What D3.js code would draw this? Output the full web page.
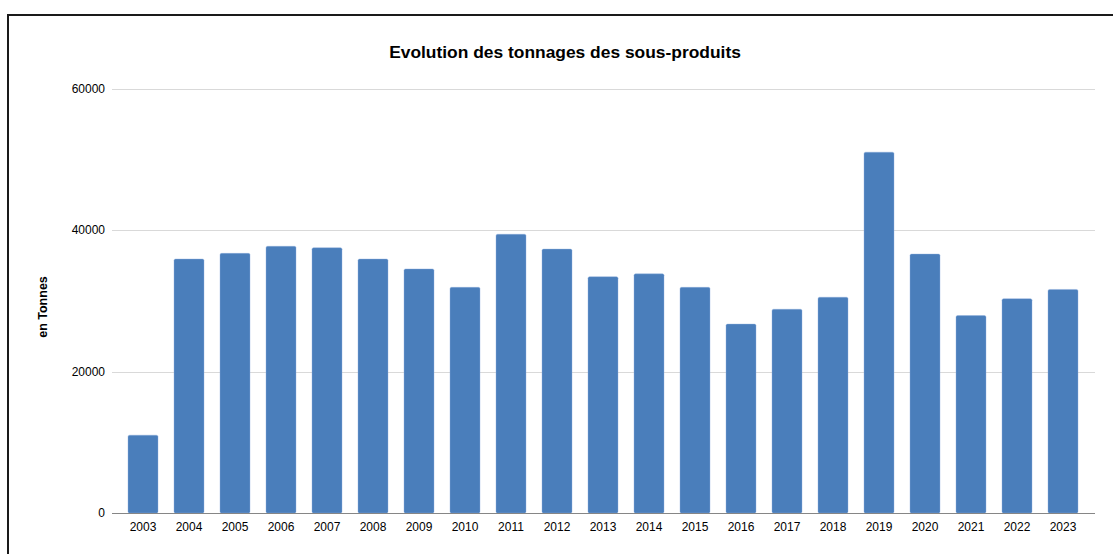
<html lang="fr">
<head>
<meta charset="utf-8">
<script src="https://cdn.jsdelivr.net/npm/d3@7"></script>
<style>
  body { margin: 0; background: #fff; }
  .title { font-family: "Liberation Sans", Arial, sans-serif; font-weight: bold; font-size: 17.4px; fill: #000; text-anchor: middle; }
  .ylabel { font-family: "Liberation Sans", Arial, sans-serif; font-weight: bold; font-size: 12.5px; fill: #000; text-anchor: middle; }
  .tick text { font-family: "Liberation Sans", Arial, sans-serif; font-size: 12px; fill: #000; }
</style>
</head>
<body>
<div id="chart"></div>
<script>
var years = ["2003","2004","2005","2006","2007","2008","2009","2010","2011","2012","2013",
             "2014","2015","2016","2017","2018","2019","2020","2021","2022","2023"];
var tonnages = [11000,35900,36700,37700,37500,35900,34500,31900,39400,37300,33400,
                33800,31900,26700,28800,30500,51000,36600,27900,30300,31600];
var yTicks = [0, 20000, 40000, 60000];

var width = 1113, height = 554;
var plot = {left: 112, right: 1095, top: 88.5, bottom: 513};

var svg = d3.select("#chart").append("svg")
    .attr("width", width)
    .attr("height", height);

// outer frame
svg.append("rect")
    .attr("x", 8).attr("y", 15)
    .attr("width", 1200).attr("height", 600)
    .attr("fill", "none")
    .attr("stroke", "#1a1a1a")
    .attr("stroke-width", 2);

var x = d3.scaleBand()
    .domain(years)
    .range([120, 1086])
    .paddingInner(16 / 46)
    .paddingOuter(8 / 46);

var y = d3.scaleLinear()
    .domain([0, 60000])
    .range([plot.bottom, plot.top]);

// gridlines
svg.append("g")
    .selectAll("line")
    .data(yTicks.filter(function(d){ return d > 0; }))
    .enter().append("line")
    .attr("x1", plot.left).attr("x2", plot.right)
    .attr("y1", function(d){ return Math.round(y(d)) + 0.5; })
    .attr("y2", function(d){ return Math.round(y(d)) + 0.5; })
    .attr("stroke", "#d9d9d9")
    .attr("stroke-width", 1);

// y axis labels
var yAxis = svg.append("g")
    .attr("transform", "translate(" + plot.left + ",0)")
    .call(d3.axisLeft(y).tickValues(yTicks).tickSize(0).tickPadding(7).tickFormat(d3.format("d")));
yAxis.select(".domain").remove();

// bars
svg.append("g")
    .selectAll("rect")
    .data(tonnages)
    .enter().append("rect")
    .attr("x", function(d, i){ return x(years[i]); })
    .attr("y", function(d){ return y(d); })
    .attr("width", x.bandwidth())
    .attr("height", function(d){ return y(0) - y(d); })
    .attr("rx", 1.5)
    .attr("fill", "#4a7ebb")
    .attr("stroke", "#8eaede")
    .attr("stroke-width", 0.4);

// x axis
var xAxis = svg.append("g")
    .attr("transform", "translate(0," + plot.bottom + ")")
    .call(d3.axisBottom(x).tickSize(0).tickPadding(9));
xAxis.select(".domain").remove();
svg.append("line")
    .attr("x1", plot.left).attr("x2", plot.right)
    .attr("y1", plot.bottom + 0.5).attr("y2", plot.bottom + 0.5)
    .attr("stroke", "#868686")
    .attr("stroke-width", 1);

svg.append("text")
    .attr("class", "title")
    .attr("x", 565)
    .attr("y", 58)
    .text("Evolution des tonnages des sous-produits");

svg.append("text")
    .attr("class", "ylabel")
    .attr("transform", "translate(47,307) rotate(-90)")
    .text("en Tonnes");
</script>
</body>
</html>
